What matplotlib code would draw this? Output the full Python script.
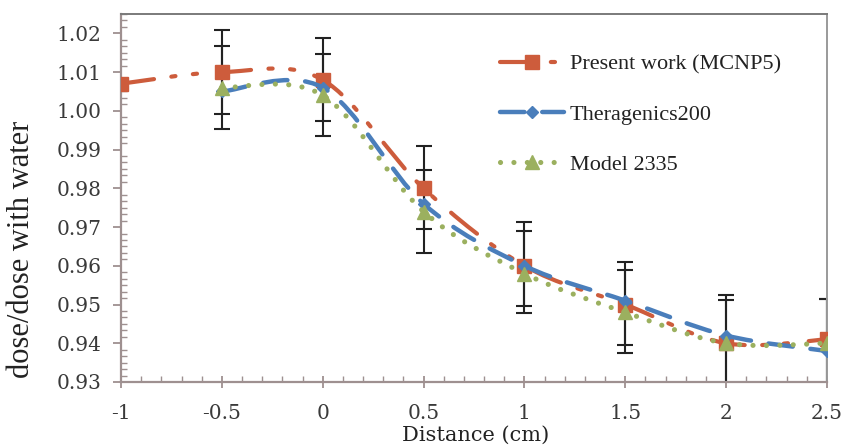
import matplotlib
matplotlib.use("Agg")
import matplotlib.pyplot as plt
import numpy as np
from matplotlib.path import Path
from matplotlib.patches import PathPatch
from matplotlib.lines import Line2D
from matplotlib.ticker import MultipleLocator, AutoMinorLocator

# distance (cm)
dist = [-1, -0.5, 0, 0.5, 1, 1.5, 2, 2.5]
present = [1.007, 1.010, 1.008, 0.980, 0.960, 0.950, 0.940, 0.941]
dist_ref = [-0.5, 0, 0.5, 1, 1.5, 2, 2.5]
thera = [1.005, 1.006, 0.976, 0.960, 0.951, 0.942, 0.938]
model = [1.006, 1.004, 0.974, 0.958, 0.948, 0.940, 0.940]

# error bars (two overlaid sets, low / high ends)
err_x = [-0.5, 0, 0.5, 1, 1.5, 2, 2.5]
err_lo_a = [0.9952, 0.9934, 0.9633, 0.9478, 0.9374, 0.928, 0.928]
err_hi_a = [1.0209, 1.0189, 0.9909, 0.9712, 0.9611, 0.9525, 0.9514]
err_lo_b = [0.9991, 0.9973, 0.9695, 0.9495, 0.9396, 0.928, 0.928]
err_hi_b = [1.0167, 1.0148, 0.9846, 0.9689, 0.9590, 0.9512, 0.9514]

labels = ["Present work (MCNP5)", "Theragenics200", "Model 2335"]
c_red = "#CD5C3C"
c_blue = "#4A7EBB"
c_green = "#9BB05F"
axis_col = "#9E9090"

ls_red = (0, (8.0, 4.2, 1.0, 4.2, 1.0, 5))
ls_blue = (0, (5.5, 4))
ls_green = (0, (0.01, 2.6))


def smooth_path(x, y):
    # Excel-style smoothed line: cubic bezier through the points
    p = np.column_stack([x, y]).astype(float)
    n = len(p)
    verts = [p[0]]
    codes = [Path.MOVETO]
    for i in range(n - 1):
        p0 = p[i - 1] if i > 0 else p[i]
        p3 = p[i + 2] if i + 2 < n else p[i + 1]
        c1 = p[i] + (p[i + 1] - p0) / 6.0
        c2 = p[i + 1] - (p3 - p[i]) / 6.0
        verts += [c1, c2, p[i + 1]]
        codes += [Path.CURVE4] * 3
    return Path(verts, codes)


fig = plt.figure(figsize=(8.44, 4.45), dpi=100)
ax = fig.add_axes([121 / 844, 1 - 382 / 445, 706 / 844, 368 / 445])

# error bars
for lo, hi in [(err_lo_a, err_hi_a), (err_lo_b, err_hi_b)]:
    lo = np.array(lo)
    hi = np.array(hi)
    c = (lo + hi) / 2
    ax.errorbar(err_x, c, yerr=[c - lo, hi - c], fmt="none", ecolor="#222222",
                elinewidth=1.5, capsize=6, capthick=1.5, zorder=2)

series = [
    (dist, present, c_red, ls_red, "s", 9.5, 3.0),
    (dist_ref, thera, c_blue, ls_blue, "D", 6.5, 3.2),
    (dist_ref, model, c_green, ls_green, "^", 10, 3.7),
]
handles = []
for k, (x, y, col, ls, mk, ms, lw) in enumerate(series):
    patch = PathPatch(smooth_path(x, y), fill=False, edgecolor=col, lw=lw,
                      linestyle=ls, zorder=3 + k, capstyle="round")
    ax.add_patch(patch)
    ax.plot(x, y, linestyle="none", marker=mk, ms=ms, color=col, mec=col,
            zorder=3.5 + k)
    h = Line2D([], [], color=col, lw=lw, linestyle=ls, marker=mk, ms=ms,
               mec=col, solid_capstyle="round", dash_capstyle="round")
    handles.append(h)

ax.set_xlim(-1, 2.5)
ax.set_ylim(0.93, 1.025)
yt = np.arange(0.93, 1.0201, 0.01)
ax.set_yticks(yt)
ax.set_yticklabels(["%.2f" % v for v in yt])
ax.yaxis.set_minor_locator(AutoMinorLocator(6))
ax.set_xticks([-1, -0.5, 0, 0.5, 1, 1.5, 2, 2.5])
ax.set_xticklabels(["-1", "-0.5", "0", "0.5", "1", "1.5", "2", "2.5"])
ax.xaxis.set_minor_locator(MultipleLocator(0.1))

for lab in ax.get_xticklabels() + ax.get_yticklabels():
    lab.set_family("DejaVu Serif")
    lab.set_fontsize(14.5)
    lab.set_color("#3a3a3a")

ax.tick_params(axis="y", which="major", direction="out", length=6, width=1.3,
               color=axis_col, pad=8)
ax.tick_params(axis="y", which="minor", direction="in", length=4, width=1.0,
               color=axis_col)
ax.tick_params(axis="x", which="major", direction="inout", length=9, width=1.3,
               color=axis_col, pad=11)
ax.tick_params(axis="x", which="minor", direction="in", length=4, width=1.0,
               color=axis_col)

ax.spines["left"].set_color(axis_col)
ax.spines["bottom"].set_color(axis_col)
ax.spines["left"].set_linewidth(1.6)
ax.spines["bottom"].set_linewidth(1.6)
ax.spines["top"].set_color("#7a7a7a")
ax.spines["right"].set_color("#9a9a9a")
ax.spines["top"].set_linewidth(1.4)
ax.spines["right"].set_linewidth(1.4)

fig.text(22 / 844, 1 - 249 / 445, "dose/dose with water", rotation=90,
         ha="center", va="center", family="Liberation Serif", fontsize=22,
         color="#222222")
fig.text(476 / 844, 1 - 435 / 445, "Distance (cm)", ha="center", va="center",
         family="DejaVu Serif", fontsize=15, color="#222222")

leg = ax.legend(handles, labels, loc="upper left",
                bbox_to_anchor=(500 / 844, 1 - 54 / 445),
                bbox_transform=fig.transFigure, frameon=False,
                prop={"family": "Liberation Serif", "size": 16},
                handlelength=2.9, handletextpad=0.25, labelspacing=1.33,
                borderpad=0, borderaxespad=0, numpoints=1)
for t in leg.get_texts():
    t.set_color("#222222")

fig.savefig("out.png", dpi=100)
